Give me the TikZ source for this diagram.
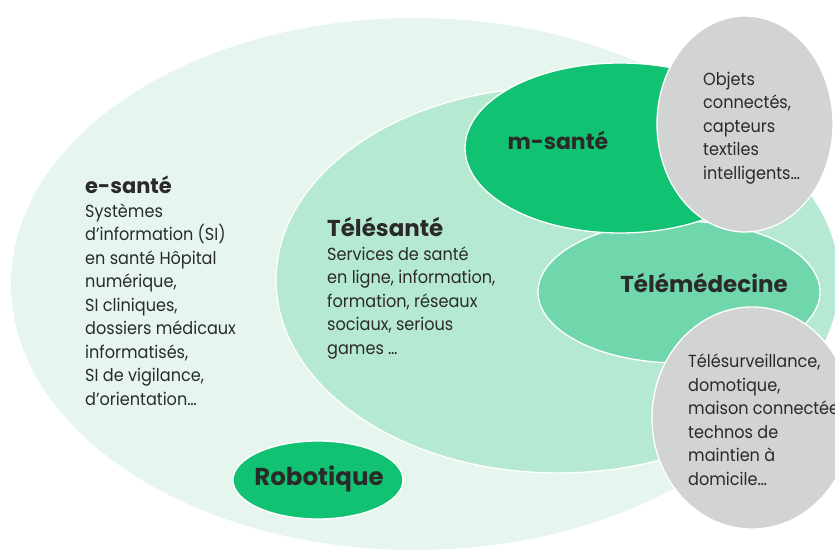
\documentclass[tikz,border=0pt]{standalone}
\usepackage{fontspec}
\setmainfont{Poppins}[FakeStretch=0.92]
\newfontfamily\headfont{Poppins}
\usetikzlibrary{positioning}
\definecolor{esante}{HTML}{E6F6EF}
\definecolor{telesante}{HTML}{B6E9D2}
\definecolor{telemed}{HTML}{70D6AB}
\definecolor{msante}{HTML}{12C273}
\definecolor{objet}{HTML}{D2D3D3}
\definecolor{ink}{HTML}{2A2A2A}
\begin{document}
\begin{tikzpicture}[x=1pt, y=-1pt,
  rim/.style={draw=white, line width=1.3pt},
  txt/.style={inner sep=0pt, anchor=base west, align=left, text=ink,
    font=\fontsize{17.5}{23.5}\selectfont},
  hd/.style={inner sep=0pt, text=ink, font=\headfont\bfseries\fontsize{#1}{#1}\selectfont},
  hd/.default=22]
\useasboundingbox (0,0) rectangle (835,551);
\fill [esante] (415,284) ellipse [x radius=404pt, y radius=266pt];
\path [fill=telesante, rim] (558,280) ellipse [x radius=282pt, y radius=193pt];
\path [fill=msante, rim] (318,480) ellipse [x radius=85pt, y radius=39pt];
\path [fill=telemed, rim] (679,292) ellipse [x radius=141pt, y radius=71pt];
\path [fill=msante, rim] (620,148) ellipse [x radius=155pt, y radius=85pt];
\path [fill=objet, rim] (745,124) ellipse [x radius=88pt, y radius=108pt];
\path [fill=objet, rim] (752,418) ellipse [x radius=100pt, y radius=111pt];
% textes
\node [txt] (esante) at (85,405) {{\headfont\bfseries\fontsize{21}{21}\selectfont e-santé}\\
  Systèmes\\d’information (SI)\\en santé Hôpital\\numérique,\\SI cliniques,\\
  dossiers médicaux\\informatisés,\\SI de vigilance,\\d’orientation…};
\node [txt] (telesante) at (327,354) {{\headfont\bfseries\fontsize{23}{23}\selectfont Télésanté}\\
  Services de santé\\en ligne, information,\\formation, réseaux\\sociaux, serious\\games …};
\node [hd] (msante) at (558,140) {m-santé};
\node [hd=23] (telemed) at (704,283) {Télémédecine};
\node [hd=24.5] (robot) at (319,479) {Robotique};
\node [txt] (objets) at (703,179) {Objets\\connectés,\\capteurs\\textiles\\intelligents…};
\node [txt] (telesurv) at (688,485) {Télésurveillance,\\domotique,\\maison connectée,\\technos de\\maintien à\\domicile…};
\end{tikzpicture}
\end{document}
